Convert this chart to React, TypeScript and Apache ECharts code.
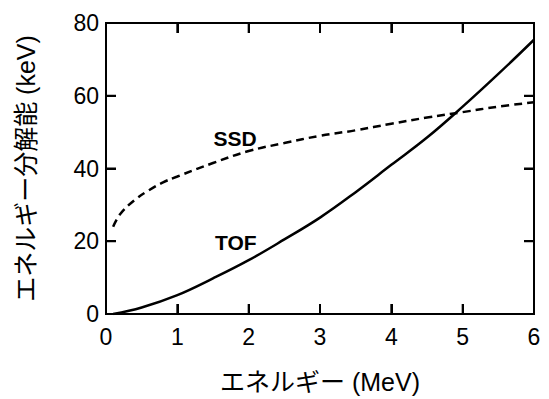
import React, { useEffect, useRef } from "react";
import * as echarts from "echarts";

// Energy (MeV)
const ssdEnergy = [0.1, 0.2, 0.4, 0.6, 0.8, 1.0, 1.5, 2.0, 2.5, 3.0, 3.5, 4.0, 4.5, 5.0, 5.5, 6.0];
// SSD energy resolution (keV)
const ssdResolution = [24, 27.5, 31.3, 34, 36.2, 37.8, 41.5, 44.8, 47, 49, 50.5, 52.3, 54, 55.5, 57, 58.2];

const tofEnergy = [0.1, 0.5, 1.0, 1.5, 2.0, 2.5, 3.0, 3.5, 4.0, 4.5, 5.0, 5.5, 6.0];
// TOF energy resolution (keV)
const tofResolution = [0, 1.8, 5.2, 9.8, 14.8, 20.5, 26.5, 33.5, 41, 48.5, 57, 66, 75.4];

const xTicks = [0, 1, 2, 3, 4, 5, 6];
const yTicks = [0, 20, 40, 60, 80];

const xName = "エネルギー (MeV)";
const yName = "エネルギー分解能 (keV)";
const ssdLabel = "SSD";
const tofLabel = "TOF";
const ssdLabelAt = [1.81, 48.3];
const tofLabelAt = [1.82, 19.6];

const FONT = "'Liberation Sans', Arial, 'Noto Sans CJK JP', sans-serif";
const TICK_LEN = 10;

const mkLine = () => ({ show: true, onZero: false, lineStyle: { color: "#000", width: 2 } });
const mkTick = () => ({ show: true, inside: true, length: TICK_LEN, lineStyle: { color: "#000", width: 2 } });

function buildOption() {
  const xMin = xTicks[0];
  const xMax = xTicks[xTicks.length - 1];
  const yMin = yTicks[0];
  const yMax = yTicks[yTicks.length - 1];
  const labelStyle = { color: "#000", fontSize: 23, fontFamily: FONT };
  const nameStyle = { color: "#000", fontSize: 25, fontFamily: FONT };
  const markLabel = (text: string) => ({
    symbol: "circle",
    symbolSize: 0,
    label: {
      show: true,
      position: "inside",
      formatter: text,
      color: "#000",
      fontSize: 21,
      fontWeight: "bold",
      fontFamily: FONT,
    },
  });
  const stroke = { stroke: "#000", lineWidth: 2, fill: null };
  // frame + inside ticks on all four sides, placed through the axes' own scales
  const renderFrame = (_params: any, api: any) => {
    const tl = api.coord([xMin, yMax]);
    const br = api.coord([xMax, yMin]);
    const children: any[] = [
      {
        type: "polygon",
        shape: { points: [[tl[0], tl[1]], [br[0], tl[1]], [br[0], br[1]], [tl[0], br[1]]] },
        style: { ...stroke },
        silent: true,
      },
    ];
    xTicks.slice(1, -1).forEach((t) => {
      const px = api.coord([t, yMin])[0];
      children.push({ type: "line", shape: { x1: px, y1: br[1], x2: px, y2: br[1] - TICK_LEN }, style: { ...stroke }, silent: true });
      children.push({ type: "line", shape: { x1: px, y1: tl[1], x2: px, y2: tl[1] + TICK_LEN }, style: { ...stroke }, silent: true });
    });
    yTicks.slice(1, -1).forEach((t) => {
      const py = api.coord([xMin, t])[1];
      children.push({ type: "line", shape: { x1: tl[0], y1: py, x2: tl[0] + TICK_LEN, y2: py }, style: { ...stroke }, silent: true });
      children.push({ type: "line", shape: { x1: br[0], y1: py, x2: br[0] - TICK_LEN, y2: py }, style: { ...stroke }, silent: true });
    });
    return { type: "group", children };
  };
  return {
    animation: false,
    backgroundColor: "#fff",
    title: { show: false, text: "" },
    grid: {
      show: true,
      left: 106,
      right: 15,
      top: 23,
      bottom: 81,
      containLabel: false,
      borderColor: "#000",
      borderWidth: 2,
    },
    xAxis: [
      {
        type: "value",
        min: xMin,
        max: xMax,
        interval: 1,
        position: "bottom",
        axisLine: mkLine(),
        axisTick: mkTick(),
        splitLine: { show: false },
        axisLabel: { ...labelStyle, margin: 12 },
        name: xName,
        nameLocation: "middle",
        nameGap: 55,
        nameTextStyle: nameStyle,
      },
      {
        type: "value",
        min: xMin,
        max: xMax,
        interval: 1,
        position: "top",
        axisLine: mkLine(),
        axisTick: mkTick(),
        splitLine: { show: false },
        axisLabel: { show: false },
      },
    ],
    yAxis: [
      {
        type: "value",
        min: yMin,
        max: yMax,
        interval: 20,
        position: "left",
        axisLine: mkLine(),
        axisTick: mkTick(),
        splitLine: { show: false },
        axisLabel: { ...labelStyle, margin: 7 },
        name: yName,
        nameLocation: "middle",
        nameRotate: 90,
        nameGap: 68,
        nameTextStyle: nameStyle,
      },
      {
        type: "value",
        min: yMin,
        max: yMax,
        interval: 20,
        position: "right",
        axisLine: mkLine(),
        axisTick: mkTick(),
        splitLine: { show: false },
        axisLabel: { show: false },
      },
    ],
    series: [
      {
        type: "custom",
        name: "frame",
        xAxisIndex: 0,
        yAxisIndex: 0,
        clip: false,
        silent: true,
        data: [[xMin, yMin]],
        renderItem: renderFrame,
      },
      {
        type: "line",
        name: ssdLabel,
        xAxisIndex: 0,
        yAxisIndex: 0,
        data: ssdEnergy.map((e, i) => [e, ssdResolution[i]]),
        smooth: 0.4,
        showSymbol: false,
        symbol: "none",
        lineStyle: { color: "#000", width: 2.5, type: [8, 5] },
        markPoint: { ...markLabel(ssdLabel), data: [{ coord: ssdLabelAt }] },
      },
      {
        type: "line",
        name: tofLabel,
        xAxisIndex: 0,
        yAxisIndex: 0,
        data: tofEnergy.map((e, i) => [e, tofResolution[i]]),
        smooth: 0.4,
        showSymbol: false,
        symbol: "none",
        lineStyle: { color: "#000", width: 2.5, type: "solid" },
        markPoint: { ...markLabel(tofLabel), data: [{ coord: tofLabelAt }] },
      },
    ],
  };
}

export default function App() {
  const ref = useRef<HTMLDivElement>(null);
  useEffect(() => {
    if (!ref.current) return;
    const chart = echarts.init(ref.current, undefined, { renderer: "svg" });
    chart.setOption(buildOption());
    return () => chart.dispose();
  }, []);
  return (
    <div style={{ position: "absolute", left: 0, top: 0, width: 549, height: 399 }}>
      <div ref={ref} style={{ width: 549, height: 399 }} />
    </div>
  );
}
